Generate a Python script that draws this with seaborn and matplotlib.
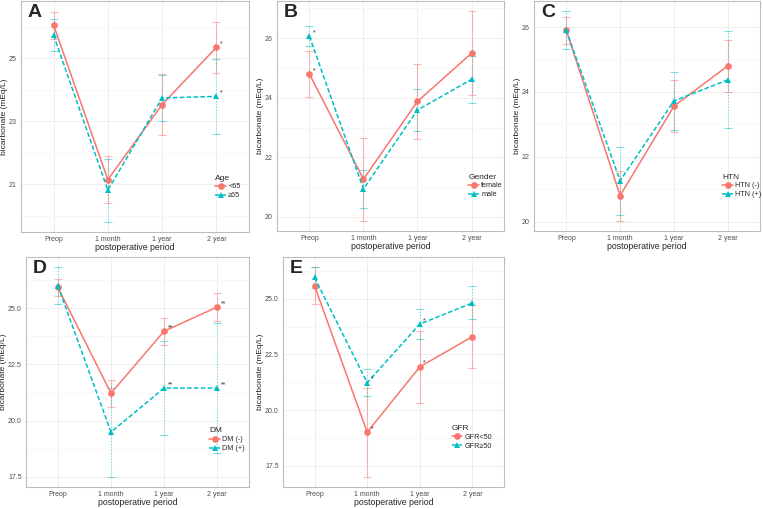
import numpy as np
import pandas as pd
import matplotlib
matplotlib.use("Agg")
import matplotlib.pyplot as plt
import seaborn as sns

# x categories
periods = ["Preop", "1 month", "1 year", "2 year"]

# A - age
age_groups = ["<65", "≥65"]
age_young = [26.06, 21.14, 23.53, 25.35]
age_young_err = [0.43, 0.75, 0.98, 0.82]
age_old = [25.74, 20.81, 23.74, 23.79]
age_old_err = [0.52, 1.00, 0.74, 1.20]

# B - gender
gender_groups = ["female", "male"]
gender_f = [24.80, 21.27, 23.88, 25.50]
gender_f_err = [0.76, 1.39, 1.27, 1.40]
gender_m = [26.07, 20.94, 23.59, 24.62]
gender_m_err = [0.33, 0.65, 0.72, 0.78]

# C - hypertension
htn_groups = ["HTN (-)", "HTN (+)"]
htn_neg = [25.90, 20.80, 23.56, 24.80]
htn_neg_err = [0.42, 0.77, 0.80, 0.80]
htn_pos = [25.90, 21.26, 23.72, 24.37]
htn_pos_err = [0.58, 1.05, 0.90, 1.50]

# D - diabetes
dm_groups = ["DM (-)", "DM (+)"]
dm_neg = [25.93, 21.22, 23.98, 25.06]
dm_neg_err = [0.38, 0.60, 0.60, 0.62]
dm_pos = [26.00, 19.49, 21.45, 21.45]
dm_pos_err = [0.82, 1.98, 2.10, 2.90]

# E - GFR
gfr_groups = ["GFR<50", "GFR≥50"]
gfr_low = [25.58, 19.01, 21.94, 23.30]
gfr_low_err = [0.82, 1.99, 1.62, 1.42]
gfr_high = [25.95, 21.23, 23.86, 24.81]
gfr_high_err = [0.45, 0.60, 0.69, 0.74]

red, cyan = "#F8766D", "#00BFC4"

sns.set_style("white")
plt.rcParams["font.family"] = ["Liberation Sans", "DejaVu Sans"]

fig = plt.figure(figsize=(7.63, 5.08), dpi=100)


def panel(rect, letter, title, groups, means, errs, major, minor, stars, leg_xy):
    ax = fig.add_axes(rect)
    df = pd.DataFrame({
        "period": periods * 2,
        "value": means[0] + means[1],
        "group": [groups[0]] * 4 + [groups[1]] * 4,
    })
    for m, e, c, ls in zip(means, errs, [red, cyan], ["-", ":"]):
        eb = ax.errorbar(periods, m, yerr=e, fmt="none", ecolor=c, alpha=0.5,
                         elinewidth=0.8, capsize=2.8, capthick=0.8)
        eb[2][0].set_linestyle(ls)
    sns.lineplot(data=df, x="period", y="value", hue="group", style="group",
                 palette=[red, cyan], markers=["o", "^"], dashes=["", (3, 1.5)],
                 markersize=4.8, markeredgewidth=0, linewidth=1.1, sort=False, ax=ax)

    # significance marks
    for gi, pi, txt in stars:
        ax.annotate(txt, (pi, means[gi][pi]), xytext=(2.5, 0), textcoords="offset points",
                    fontsize=5, color="#333333", va="bottom")

    lo = min(np.array(means[0]) - errs[0]), min(np.array(means[1]) - errs[1])
    hi = max(np.array(means[0]) + errs[0]), max(np.array(means[1]) + errs[1])
    lo, hi = min(lo), max(hi)
    pad = (hi - lo) * 0.05
    ax.set_ylim(lo - pad, hi + pad)
    ax.set_xlim(-0.6, 3.6)
    ax.set_yticks(major)
    ax.set_yticks(minor, minor=True)
    ax.grid(True, which="major", color="#EBEBEB", linewidth=0.6)
    ax.grid(True, which="minor", axis="y", color="#F4F4F4", linewidth=0.4)
    ax.set_axisbelow(True)
    for s in ax.spines.values():
        s.set_color("#BDBDBD")
        s.set_linewidth(0.8)
    ax.tick_params(labelsize=5, labelcolor="#4D4D4D", color="#7F7F7F",
                   length=2, width=0.5, pad=1)
    ax.tick_params(which="minor", length=0)
    ax.set_xlabel("postoperative period", fontsize=6.3, labelpad=0)
    ax.set_ylabel("bicarbonate (mEq/L)", fontsize=6, labelpad=0.5)
    ax.text(0.03, 0.985, letter, transform=ax.transAxes, fontsize=14,
            fontweight="bold", va="top", ha="left")

    h, l = ax.get_legend_handles_labels()
    ax.legend(h[-2:], l[-2:], title=title, loc="lower left", bbox_to_anchor=leg_xy,
              frameon=False, fontsize=5.2, title_fontsize=6, handlelength=1.5,
              handletextpad=0.3, labelspacing=0.25, borderpad=0.2, alignment="left")
    return ax


panel([0.0275, 0.5433, 0.2988, 0.4547], "A", "Age", age_groups,
      [age_young, age_old], [age_young_err, age_old_err],
      [21, 23, 25], [20, 22, 24, 26], [(0, 3, "*"), (1, 3, "*")], (0.83, 0.12))

panel([0.3630, 0.5453, 0.2975, 0.4527], "B", "Gender", gender_groups,
      [gender_f, gender_m], [gender_f_err, gender_m_err],
      [20, 22, 24, 26], [21, 23, 25, 27], [(0, 0, "*"), (1, 0, "*")], (0.82, 0.12))

panel([0.6999, 0.5453, 0.2962, 0.4527], "C", "HTN", htn_groups,
      [htn_neg, htn_pos], [htn_neg_err, htn_pos_err],
      [20, 22, 24, 26], [21, 23, 25], [], (0.81, 0.12))

panel([0.0341, 0.0413, 0.2923, 0.4528], "D", "DM", dm_groups,
      [dm_neg, dm_pos], [dm_neg_err, dm_pos_err],
      [17.5, 20.0, 22.5, 25.0], [18.75, 21.25, 23.75, 26.25],
      [(0, 2, "**"), (0, 3, "**"), (1, 2, "**"), (1, 3, "**")], (0.80, 0.13))

panel([0.3709, 0.0413, 0.2896, 0.4528], "E", "GFR", gfr_groups,
      [gfr_low, gfr_high], [gfr_low_err, gfr_high_err],
      [17.5, 20.0, 22.5, 25.0], [18.75, 21.25, 23.75, 26.25],
      [(0, 1, "*"), (0, 2, "*"), (1, 1, "*"), (1, 2, "*")], (0.74, 0.14))

fig.savefig("out.png", dpi=100)
